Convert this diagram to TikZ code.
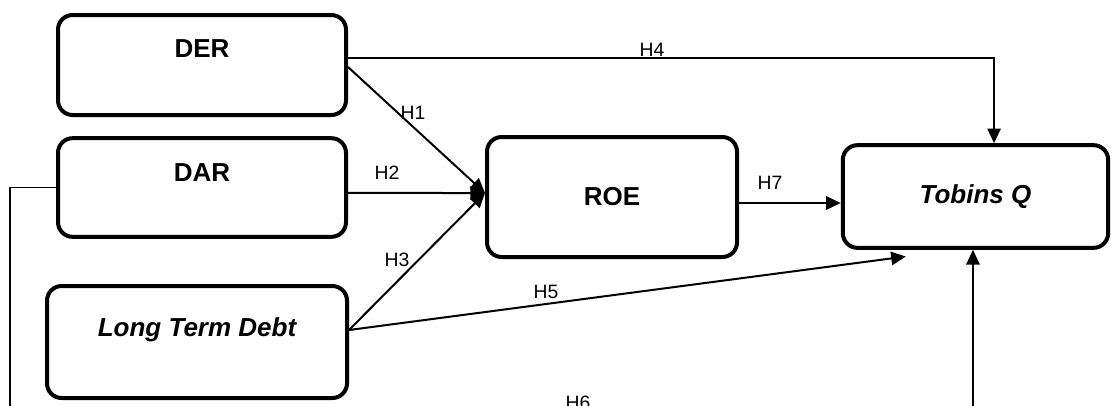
\documentclass[tikz,border=0pt]{standalone}
\usepackage{fontspec}
\setmainfont{Liberation Sans}
\usetikzlibrary{arrows.meta}
\begin{document}
\begin{tikzpicture}[x=0.75pt,y=-0.75pt,
  box/.style={draw,line width=3pt,rounded corners=11pt,inner sep=0pt},
  boxtext/.style={font=\fontsize{19.5}{22}\selectfont\bfseries},
  lab/.style={font=\fontsize{14.5}{16}\selectfont,inner sep=0pt},
  arr/.style={line width=1.5pt,-{Triangle[length=11pt,width=10pt]}},
  thin/.style={line width=1.1pt}]
\clip (0,0) rectangle (1112,405);
\fill[white] (0,0) rectangle (1112,405);

% variables
\node[box,minimum width=216pt,minimum height=75pt,
  label={[boxtext,anchor=center,yshift=-27pt]north:DER}] (DER) at (202,65) {};
\node[box,minimum width=216pt,minimum height=74pt,
  label={[boxtext,anchor=center,yshift=-27pt]north:DAR}] (DAR) at (202,187.5) {};
\node[box,minimum width=225pt,minimum height=84pt,
  label={[boxtext,anchor=center,yshift=-34pt]north:\itshape Long Term Debt}] (LTD) at (197,342) {};
\node[box,minimum width=187.5pt,minimum height=90pt,boxtext] (ROE) at (612,197) {ROE};
\node[box,minimum width=199pt,minimum height=77pt,boxtext] (TQ) at (975.5,196.5) {\itshape Tobins Q};

% anchor points of the connectors
\coordinate (roeL) at ([yshift=3pt]ROE.west);
\coordinate (ltdR) at ([yshift=9pt]LTD.east);
\coordinate (h6c) at (10,420);

% paths
\draw[arr] ([yshift=5.25pt]DER.east) -| ([xshift=13.9pt]TQ.north);
\draw[arr] ([yshift=-1.5pt]DER.east) -- (roeL);
\draw[arr] ([yshift=-4.1pt]DAR.east) -- (roeL);
\draw[arr] (ltdR) -- (roeL);
\draw[arr] (ltdR) -- ([xshift=48.75pt,yshift=-5pt]TQ.south west);
\draw[arr] ([yshift=-4.5pt]ROE.east) coordinate (h7s) -- (TQ.west |- h7s);
\draw[thin] (DAR.west) -| (h6c);
\draw[thin,-{Triangle[length=11pt,width=10pt]}] (h6c) -| ([xshift=-1.9pt]TQ.south);

% path labels
\node[lab] at (413,113) {H1};
\node[lab] at (387,173) {H2};
\node[lab] at (397,260) {H3};
\node[lab] at (652,50) {H4};
\node[lab] at (546,292) {H5};
\node[lab] at (578,403) {H6};
\node[lab] at (770,183) {H7};
\end{tikzpicture}
\end{document}
